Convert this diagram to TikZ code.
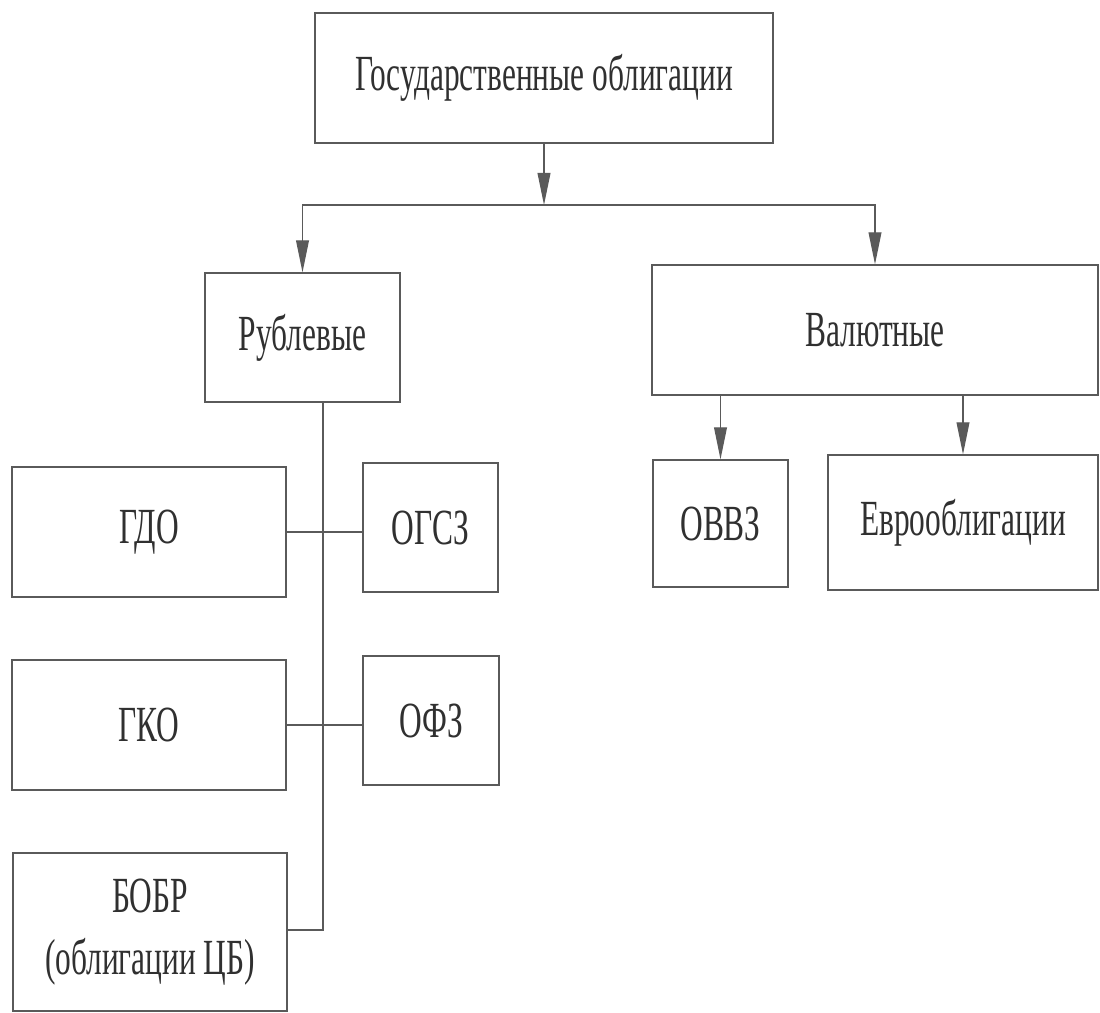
\documentclass[tikz,border=0pt]{standalone}
\usepackage{fontspec}
\setmainfont{Liberation Serif}[FakeStretch=0.62]
\usepackage{xcolor}
\usepackage{tikz}
\usetikzlibrary{arrows.meta}
\definecolor{figLine}{HTML}{5A5A5A}
\definecolor{figText}{HTML}{303030}

\begin{document}
\begin{tikzpicture}[
  x=0.025cm, y=-0.025cm,
  every node/.style={font=\fontsize{36}{44}\selectfont, text=figText},
  bondbox/.style={
    draw=figLine, line width=0.9pt, align=center, inner sep=2pt,
  },
  arrow/.style={-{Triangle[length=0.8cm, width=0.32cm]}, figLine, line width=0.9pt},
  link/.style={figLine, line width=0.9pt},
]
\useasboundingbox (0,0) rectangle (1100,1013);

% === Top level ===
\node[bondbox, minimum width=11.45cm, minimum height=3.25cm] (gos) at (544, 78) {Государственные облигации};

% === Second level ===
\node[bondbox, minimum width=4.875cm, minimum height=3.225cm] (rub) at (302.5, 337.5) {Рублевые};
\node[bondbox, minimum width=11.15cm, minimum height=3.25cm] (val) at (875, 330) {Валютные};

% === Ruble bonds ===
\node[bondbox, minimum width=6.85cm, minimum height=3.25cm] (gdo) at (149, 532) {ГДО};
\node[bondbox, minimum width=3.375cm, minimum height=3.225cm] (ogsz) at (430.5, 527.5) {ОГСЗ};
\node[bondbox, minimum width=6.85cm, minimum height=3.25cm] (gko) at (149, 725) {ГКО};
\node[bondbox, minimum width=3.4cm, minimum height=3.225cm] (ofz) at (431, 720.5) {ОФЗ};
\node[bondbox, minimum width=6.85cm, minimum height=3.95cm] (bobr) at (150, 932) {БОБР\\(облигации ЦБ)};

% === Currency bonds ===
\node[bondbox, minimum width=3.375cm, minimum height=3.175cm] (ovvz) at (720.5, 523.5) {ОВВЗ};
\node[bondbox, minimum width=6.75cm, minimum height=3.375cm] (evro) at (963, 522.5) {Еврооблигации};

% === Connectors ===
\coordinate (split) at (544, 205);
\coordinate (trunk) at (323, 930);
\draw[arrow] (gos.south) -- (split);
\draw[arrow] (split) -| (rub.north);
\draw[arrow] (split) -| (val.north);
\draw[arrow] (ovvz.north |- val.south) -- (ovvz.north);
\draw[arrow] (evro.north |- val.south) -- (evro.north);
\draw[link] (trunk |- rub.south) -- (trunk) -- (trunk -| bobr.east);
\draw[link] (gdo.east) -- (ogsz.west |- gdo.east);
\draw[link] (gko.east) -- (ofz.west |- gko.east);

\end{tikzpicture}
\end{document}
